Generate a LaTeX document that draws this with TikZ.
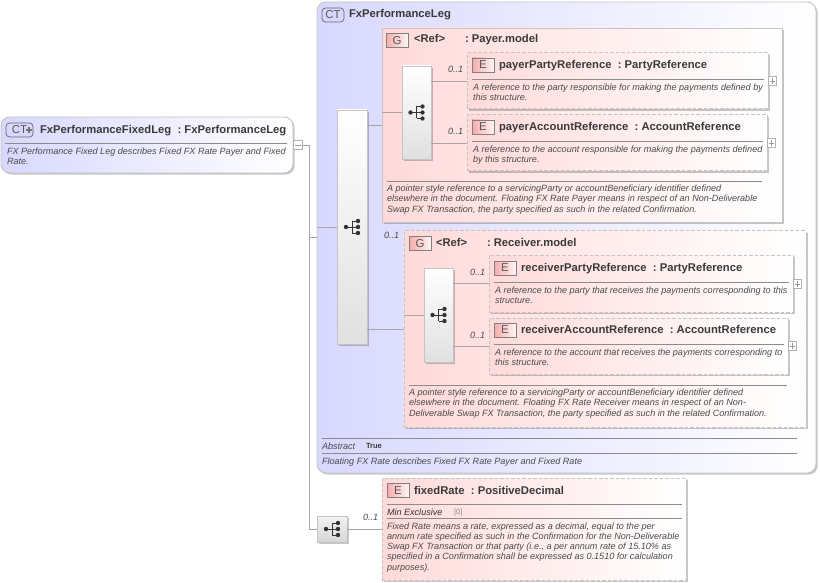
\documentclass[tikz,border=0pt]{standalone}
\usepackage{fontspec}
\setmainfont{Liberation Sans}
\usetikzlibrary{shadows,calc}
\definecolor{conngray}{HTML}{A6A6A6}
\definecolor{edgegray}{HTML}{C4C4C4}
\definecolor{txtdark}{HTML}{3A3A3A}
\definecolor{txtdesc}{HTML}{4A4A4A}
\definecolor{ctblue}{HTML}{D8D8FF}
\definecolor{refpink}{HTML}{FFDADA}
\definecolor{iconred}{HTML}{F7ABAB}
\tikzset{
	every node/.style={inner sep=0,outer sep=0},
	conn/.style={draw=conngray,line width=0.7pt},
	softshadow/.style={drop shadow={shadow xshift=1.6pt,shadow yshift=-1.6pt,fill=black,opacity=0.22}},
	ctbox/.style={draw=edgegray,line width=0.9pt,rounded corners=9pt,left color=ctblue,right color=white,softshadow},
	gbox/.style={draw=edgegray,line width=0.9pt,left color=refpink,right color=white,softshadow},
	ebox/.style={draw=edgegray,line width=1pt,dash pattern=on 3.5pt off 2pt,left color=refpink,right color=white,softshadow},
	seqbox/.style={draw=edgegray,line width=0.8pt,top color=white,bottom color=black!12,softshadow},
	eicon/.style={draw=black!50,line width=0.7pt,left color=iconred,right color=red!4,minimum width=22pt,minimum height=14pt,text=black!65,font=\fontsize{11.5}{13}\selectfont},
	cticon/.style={draw=black!60,line width=0.7pt,rounded corners=3.5pt,fill=ctblue,minimum height=14pt,text=black!65,font=\fontsize{11.5}{13}\selectfont},
	titletxt/.style={anchor=base west,text=txtdark,font=\fontsize{11.25}{13}\selectfont\bfseries},
	desctxt/.style={anchor=north west,yshift=-1.2pt,align=left,text=txtdesc,font=\fontsize{9.07}{10.2}\selectfont\itshape},
	occurs/.style={anchor=base west,text=txtdesc,font=\fontsize{9.07}{10}\selectfont\itshape},
	rulegray/.style={draw=black!45,line width=0.7pt},
	plusbox/.style={draw=black!30,line width=0.6pt,fill=white,minimum size=8.5pt,path picture={
		\draw[black!40,line width=0.5pt] ($(path picture bounding box.west)+(1.5pt,0)$)--($(path picture bounding box.east)+(-1.5pt,0)$);
		\draw[black!40,line width=0.5pt] ($(path picture bounding box.north)+(0,-1.5pt)$)--($(path picture bounding box.south)+(0,1.5pt)$);}},
	minusbox/.style={draw=black!30,line width=0.6pt,fill=white,minimum size=8.5pt,path picture={
		\draw[black!40,line width=0.5pt] ($(path picture bounding box.west)+(1.5pt,0)$)--($(path picture bounding box.east)+(-1.5pt,0)$);}},
	seqicon/.pic={
		\draw[black!80,line width=0.8pt] (-6,0)--(6,0) (0,-6)--(0,6) (0,-6)--(6,-6) (0,6)--(6,6);
		\fill[black!80] (-6,0) circle [radius=2.2] (6,-6) circle [radius=2.2] (6,0) circle [radius=2.2] (6,6) circle [radius=2.2];
	}
}
\begin{document}
\begin{tikzpicture}[x=1pt,y=-1pt]
	\useasboundingbox (0,0) rectangle (820,583);
	
	% root type
	\node[ctbox,minimum width=292pt,minimum height=56pt] (root) at (147,145) {};
	\node[cticon,minimum width=27pt,anchor=west] (rooticon) at (6,130) {CT\hspace{9pt}};
	\draw[black!55,line width=2.4pt] ($(rooticon.east)+(-7.4,0)$)--($(rooticon.east)+(-0.9,0)$) ($(rooticon.east)+(-4.2,-3.2)$)--($(rooticon.east)+(-4.2,3.2)$);
	\node[titletxt] (roottitle) at (40,133.5) {FxPerformanceFixedLeg\ \ :\ FxPerformanceLeg};
	\draw[rulegray] (5,143.5)--(287,143.5);
	\node[desctxt] (rootdesc) at (7,146.5) {FX Performance Fixed Leg describes Fixed FX Rate Payer and Fixed\\Rate.};
	\node[minusbox] (rootminus) at (298,145) {};
	
	% base type
	\node[ctbox,minimum width=499pt,minimum height=471pt] (legbox) at (566.5,237.5) {};
	\node[cticon,minimum width=22pt] (legicon) at (333,15) {CT};
	\node[titletxt] (legtitle) at (349,18) {FxPerformanceLeg};
	
	\node[seqbox,minimum width=30pt,minimum height=234pt] (seqmain) at (352,227) {};
	\pic at (seqmain) {seqicon};
	
	% payer group
	\node[gbox,minimum width=400pt,minimum height=194pt] (payermodel) at (582,125) {};
	\node[eicon] (payericon) at (397,40.5) {G};
	\node[titletxt] (payerref) at (414,43) {<Ref>};
	\node[titletxt] (payername) at (465,43) {:\ Payer.model};
	\node[seqbox,minimum width=29pt,minimum height=93pt] (seqpayer) at (416.5,112.5) {};
	\pic at (seqpayer) {seqicon};
	
	\node[ebox,minimum width=301pt,minimum height=56pt] (payerparty) at (617.5,81) {};
	\node[eicon] (partyicon) at (483,65) {E};
	\node[titletxt] (partytitle) at (499,68.5) {payerPartyReference\ \ :\ PartyReference};
	\draw[rulegray] (472,79.5)--(764,79.5);
	\node[desctxt] (partydesc) at (473,83) {A reference to the party responsible for making the payments defined by\\this structure.};
	\node[plusbox] (partyplus) at (772.5,81) {};
	\node[occurs] (partyoccurs) at (448,73) {0..1};
	
	\node[ebox,minimum width=300pt,minimum height=56pt] (payeraccount) at (617,143) {};
	\node[eicon] (accounticon) at (483,127) {E};
	\node[titletxt] (accounttitle) at (499,130.5) {payerAccountReference\ \ :\ AccountReference};
	\draw[rulegray] (472,141.5)--(763,141.5);
	\node[desctxt] (accountdesc) at (473,145) {A reference to the account responsible for making the payments defined\\by this structure.};
	\node[plusbox] (accountplus) at (771.5,143) {};
	\node[occurs] (accountoccurs) at (448,135) {0..1};
	
	\draw[rulegray] (387,181.5)--(762,181.5);
	\node[desctxt] (payerdesc) at (387,184) {A pointer style reference to a servicingParty or accountBeneficiary identifier defined\\elsewhere in the document. Floating FX Rate Payer means in respect of an Non-Deliverable\\Swap FX Transaction, the party specified as such in the related Confirmation.};
	
	% receiver group
	\node[ebox,minimum width=402pt,minimum height=196pt] (receivermodel) at (605,329) {};
	\node[occurs] (receiveroccurs) at (384,238) {0..1};
	\node[eicon] (receivericon) at (420,243.5) {G};
	\node[titletxt] (receiverref) at (436,246.5) {<Ref>};
	\node[titletxt] (receivername) at (487,246.5) {:\ Receiver.model};
	\node[seqbox,minimum width=29pt,minimum height=94pt] (seqreceiver) at (438.5,315) {};
	\pic at (seqreceiver) {seqicon};
	
	\node[ebox,minimum width=304pt,minimum height=57pt] (receiverparty) at (641,283.5) {};
	\node[eicon] (rpartyicon) at (505,268) {E};
	\node[titletxt] (rpartytitle) at (521,271.5) {receiverPartyReference\ \ :\ PartyReference};
	\draw[rulegray] (494,282.5)--(789,282.5);
	\node[desctxt] (rpartydesc) at (495,285.5) {A reference to the party that receives the payments corresponding to this\\structure.};
	\node[plusbox] (rpartyplus) at (797.5,284) {};
	\node[occurs] (rpartyoccurs) at (470,276) {0..1};
	
	\node[ebox,minimum width=299pt,minimum height=56pt] (receiveraccount) at (638.5,346) {};
	\node[eicon] (raccounticon) at (505,330) {E};
	\node[titletxt] (raccounttitle) at (521,333.5) {receiverAccountReference\ \ :\ AccountReference};
	\draw[rulegray] (494,344.5)--(784,344.5);
	\node[desctxt] (raccountdesc) at (495,347.5) {A reference to the account that receives the payments corresponding to\\this structure.};
	\node[plusbox] (raccountplus) at (792.5,346) {};
	\node[occurs] (raccountoccurs) at (470,338) {0..1};
	
	\draw[rulegray] (409,385.5)--(787,385.5);
	\node[desctxt] (receiverdesc) at (409,388) {A pointer style reference to a servicingParty or accountBeneficiary identifier defined\\elsewhere in the document. Floating FX Rate Receiver means in respect of an Non-\\Deliverable Swap FX Transaction, the party specified as such in the related Confirmation.};
	
	% footer of base type
	\draw[rulegray] (322,438.5)--(797,438.5);
	\node[occurs] (abstractkey) at (322,449) {Abstract};
	\node[anchor=base west,font=\fontsize{7.5}{8}\selectfont\bfseries,text=txtdark] (abstractval) at (366,448) {True};
	\draw[rulegray] (322,453.5)--(797,453.5);
	\node[desctxt] (legdesc) at (322,456.5) {Floating FX Rate describes Fixed FX Rate Payer and Fixed Rate};
	
	% fixed rate element
	\node[seqbox,top color=black!5,bottom color=black!16,minimum width=30pt,minimum height=26pt] (seqfixed) at (332,529) {};
	\pic at (seqfixed) {seqicon};
	\node[occurs] (fixedoccurs) at (363,520) {0..1};
	\node[ebox,minimum width=304pt,minimum height=102pt] (fixedrate) at (534,529) {};
	\node[eicon] (fixedicon) at (398,490.5) {E};
	\node[titletxt] (fixedtitle) at (414,494) {fixedRate\ \ :\ PositiveDecimal};
	\draw[rulegray] (387,504.5)--(682,504.5);
	\node[occurs,text=black!80] (minkey) at (387,515) {Min Exclusive};
	\node[anchor=base west,font=\fontsize{7.5}{9}\selectfont,text=black!45] (minval) at (454,514.5) {[0]};
	\draw[rulegray] (387,518.5)--(682,518.5);
	\node[desctxt] (fixeddesc) at (387,521.5) {Fixed Rate means a rate, expressed as a decimal, equal to the per\\annum rate specified as such in the Confirmation for the Non-Deliverable\\Swap FX Transaction or that party (i.e., a per annum rate of 15.10\% as\\specified in a Confirmation shall be expressed as 0.1510 for calculation\\purposes).};
	
	% connectors
	\coordinate (trunk) at (309.5,145);
	\draw[conn] (rootminus.east)--(trunk)--(trunk |- seqfixed.west)--(seqfixed.west);
	\draw[conn] (trunk |- legbox.west)--(legbox.west);
	\draw[conn] (legbox.west |- seqmain.west)--(seqmain.west);
	\draw[conn] (seqmain.east |- payermodel.west)--(payermodel.west);
	\draw[conn] (seqmain.east |- receivermodel.west)--(receivermodel.west);
	\draw[conn] (payermodel.west |- seqpayer.west)--(seqpayer.west);
	\draw[conn] (seqpayer.east |- payerparty.west)--(payerparty.west);
	\draw[conn] (seqpayer.east |- payeraccount.west)--(payeraccount.west);
	\draw[conn] (receivermodel.west |- seqreceiver.west)--(seqreceiver.west);
	\draw[conn] (seqreceiver.east |- receiverparty.west)--(receiverparty.west);
	\draw[conn] (seqreceiver.east |- receiveraccount.west)--(receiveraccount.west);
	\draw[conn] (seqfixed.east)--(fixedrate.west);
\end{tikzpicture}
\end{document}
